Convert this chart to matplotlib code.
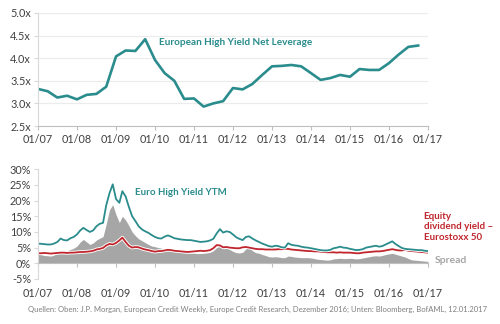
import numpy as np
import pandas as pd
import matplotlib
matplotlib.use("Agg")
import matplotlib.pyplot as plt
import matplotlib.dates as mdates
import matplotlib.patheffects as pe

plt.rcParams['font.family'] = ['Lato', 'DejaVu Sans']

TEAL = '#2a8c8c'
RED = '#c0262d'
GREY = '#a6a6a6'
TXT = '#404040'

# Upper chart: net leverage, quarterly
lev_dates = pd.date_range('2007-01-01', periods=40, freq='QS')
leverage = [3.32, 3.27, 3.13, 3.17, 3.09, 3.19, 3.21, 3.37,
            4.04, 4.17, 4.16, 4.42, 3.96, 3.67, 3.50, 3.10,
            3.11, 2.93, 3.00, 3.05, 3.34, 3.31, 3.43, 3.63,
            3.82, 3.83, 3.85, 3.82, 3.67, 3.52, 3.56, 3.63,
            3.59, 3.76, 3.74, 3.74, 3.89, 4.08, 4.25, 4.28]

# Lower chart: monthly yields in %
m_dates = pd.date_range('2007-01-01', periods=121, freq='MS')
hy_ytm = [6.3, 6.2, 6.1, 6.0, 6.0, 6.3, 6.8, 7.9, 7.4, 7.3, 8.0, 8.4,
          9.2, 10.5, 11.3, 10.6, 10.0, 10.5, 11.8, 12.6, 12.9, 18.5, 22.4, 25.2,
          20.5, 19.3, 23.0, 21.3, 18.0, 15.0, 13.5, 11.8, 10.8, 10.2, 9.7, 9.0,
          8.4, 8.0, 7.9, 8.5, 8.9, 8.5, 8.0, 7.8, 7.6, 7.5, 7.4, 7.4,
          7.2, 7.0, 6.8, 6.9, 7.0, 7.3, 7.8, 9.5, 10.9, 9.8, 10.2, 10.0,
          9.2, 8.3, 7.8, 7.4, 8.4, 8.6, 7.9, 7.3, 6.8, 6.3, 5.9, 5.5,
          5.3, 5.6, 5.5, 5.1, 5.0, 6.4, 5.9, 5.7, 5.6, 5.3, 5.1, 5.0,
          4.8, 4.6, 4.4, 4.2, 4.1, 4.1, 4.3, 4.8, 5.0, 5.3, 5.0, 4.9,
          4.6, 4.4, 4.2, 4.3, 4.5, 5.0, 5.2, 5.4, 5.6, 5.3, 5.5, 6.0,
          6.5, 7.0, 6.2, 5.5, 4.9, 4.6, 4.5, 4.4, 4.3, 4.2, 4.2, 4.0,
          3.9]
div_yield = [3.2, 3.2, 3.3, 3.2, 3.1, 3.2, 3.3, 3.4, 3.4, 3.3, 3.4, 3.4,
             3.5, 3.6, 3.6, 3.7, 3.8, 4.0, 4.4, 4.6, 4.9, 5.7, 6.2, 6.0,
             6.5, 7.3, 8.2, 6.8, 5.6, 5.0, 5.2, 5.1, 4.7, 4.4, 4.2, 3.9,
             3.7, 3.9, 3.9, 4.1, 4.3, 4.2, 4.0, 3.9, 3.8, 3.7, 3.6, 3.7,
             3.8, 3.9, 4.0, 3.9, 4.0, 4.2, 4.8, 5.8, 5.7, 5.1, 5.2, 5.0,
             4.9, 4.8, 4.8, 5.1, 5.2, 5.0, 4.8, 4.6, 4.5, 4.5, 4.4, 4.4,
             4.4, 4.4, 4.5, 4.5, 4.6, 4.6, 4.4, 4.3, 4.2, 4.1, 4.0, 3.9,
             3.9, 3.8, 3.8, 3.7, 3.6, 3.5, 3.5, 3.5, 3.4, 3.5, 3.4, 3.4,
             3.4, 3.3, 3.2, 3.2, 3.4, 3.5, 3.6, 3.7, 3.8, 3.8, 3.9, 4.1,
             4.3, 4.5, 4.3, 4.1, 4.1, 4.3, 4.0, 3.9, 3.8, 3.7, 3.6, 3.5,
             3.4]
spread = [2.9, 2.7, 2.5, 2.4, 2.3, 2.6, 3.3, 4.0, 3.8, 4.0, 4.4, 4.8,
          5.5, 6.8, 7.6, 6.8, 6.0, 6.5, 7.4, 8.0, 8.5, 12.5, 17.1, 18.7,
          15.5, 13.0, 15.0, 13.8, 12.0, 10.0, 8.8, 7.8, 7.2, 6.6, 6.0, 5.5,
          5.3, 5.0, 4.8, 4.5, 4.6, 4.3, 4.0, 3.7, 3.5, 3.4, 3.3, 3.2,
          3.2, 3.1, 3.1, 3.2, 3.3, 3.5, 4.0, 5.0, 5.4, 4.6, 4.8, 4.4,
          3.8, 3.4, 3.3, 3.5, 4.6, 5.0, 4.0, 3.4, 3.2, 2.8, 2.5, 2.1,
          2.0, 2.1, 2.0, 1.8, 1.8, 2.3, 2.2, 2.0, 1.9, 1.8, 1.8, 1.8,
          1.7, 1.5, 1.3, 1.2, 1.1, 1.0, 1.1, 1.4, 1.5, 1.6, 1.5, 1.5,
          1.6, 1.5, 1.4, 1.5, 1.7, 1.9, 2.1, 2.3, 2.4, 2.3, 2.5, 2.8,
          3.0, 3.2, 2.9, 2.6, 2.3, 2.0, 1.5, 1.1, 1.0, 0.9, 0.8, 0.7,
          0.6]

lev_ticks = [2.5, 3.0, 3.5, 4.0, 4.5, 5.0]
pct_ticks = [-5, 0, 5, 10, 15, 20, 25, 30]
year_ticks = pd.date_range('2007-01-01', '2017-01-01', freq='YS')

fig = plt.figure(figsize=(5, 3.24), dpi=100)
ax1 = fig.add_axes([0.076, 0.611, 0.78, 0.349])
ax2 = fig.add_axes([0.076, 0.139, 0.78, 0.3386])

xlim = (year_ticks[0], year_ticks[-1])

# top
ax1.plot(lev_dates, leverage, color=TEAL, lw=1.9, solid_joinstyle='round')
ax1.set_xlim(xlim)
ax1.set_ylim(2.5, 5.0)
ax1.set_yticks(lev_ticks)
ax1.set_yticklabels([f'{v:.1f}x' for v in lev_ticks])
ax1.grid(axis='y', color='#ebebeb', lw=0.8)
ax1.set_axisbelow(True)
ax1.text(pd.Timestamp('2010-02-05'), 4.34, 'European High Yield Net Leverage',
         color=TEAL, fontsize=7.2, fontweight='bold', va='center')

# bottom
ax2.fill_between(m_dates, 0, spread, color=GREY, lw=0)
ax2.plot(m_dates, div_yield, color=RED, lw=1.3,
         path_effects=[pe.Stroke(linewidth=2.6, foreground='white'), pe.Normal()])
ax2.plot(m_dates, hy_ytm, color=TEAL, lw=1.3,
         path_effects=[pe.Stroke(linewidth=2.6, foreground='white'), pe.Normal()])
ax2.set_xlim(xlim)
ax2.set_ylim(-5, 30)
ax2.set_yticks(pct_ticks)
ax2.set_yticklabels([f'{v}%' for v in pct_ticks])
ax2.spines['bottom'].set_position(('data', 0))
ax2.text(pd.Timestamp('2009-06-28'), 22.6, 'Euro High Yield YTM',
         color=TEAL, fontsize=7.0, fontweight='bold', va='center')
ax2.text(pd.Timestamp('2016-11-20'), 11.7, 'Equity\ndividend yield \u2013\nEurostoxx 50',
         color=RED, fontsize=7.0, fontweight='bold', va='center', linespacing=1.2,
         clip_on=False)
ax2.text(pd.Timestamp('2017-03-05'), 1.0, 'Spread', color=GREY, fontsize=7.5,
         fontweight='bold', va='center', clip_on=False)

for ax in (ax1, ax2):
    ax.set_xticks(year_ticks)
    ax.xaxis.set_major_formatter(mdates.DateFormatter('%m/%y'))
    for s in ('top', 'right'):
        ax.spines[s].set_visible(False)
    ax.spines['left'].set_color('#d9d9d9')
    ax.spines['bottom'].set_color('#bfbfbf')
    ax.tick_params(axis='both', labelsize=7.8, colors=TXT, length=3, width=0.8)
    ax.tick_params(axis='y', color='#d9d9d9', pad=2)
    ax.tick_params(axis='x', color='#bfbfbf', pad=3)

# x labels of lower chart sit below the plot, not at the zero line
ax2.tick_params(axis='x', pad=15)

fig.text(0.056, 0.046, 'Quellen: Oben: J.P. Morgan, European Credit Weekly, Europe Credit Research, '
         'Dezember 2016; Unten: Bloomberg, BofAML, 12.01.2017',
         fontsize=5.5, color='#7f7f7f', va='center')

fig.savefig('out.png', dpi=100)
